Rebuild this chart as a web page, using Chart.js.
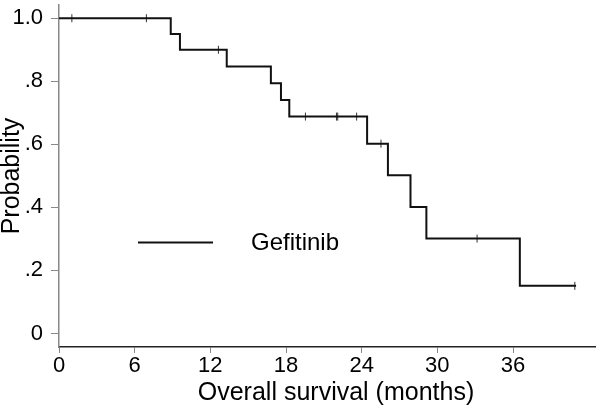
<!DOCTYPE html>
<html>
<head>
<meta charset="utf-8">
<title>Overall survival</title>
<script src="https://cdn.jsdelivr.net/npm/chart.js@4.4.1/dist/chart.umd.min.js"></script>
<style>
  html, body { margin: 0; padding: 0; background: #fff; }
  #wrap { width: 600px; height: 408px; }
</style>
</head>
<body>
<div id="wrap"><canvas id="km" width="600" height="408"></canvas></div>
<script>
  // Kaplan-Meier steps (month, survival after the event)
  const eventMonths = [0, 8.86, 9.59, 13.3, 16.8, 17.6, 18.26, 24.43, 26.08, 27.87, 29.13, 36.54, 41.0];
  const survival    = [1.0, 0.95, 0.90, 0.847, 0.794, 0.741, 0.688, 0.602, 0.502, 0.401, 0.301, 0.151, 0.151];

  // censored patients
  const censorMonths = [1.02, 6.93, 12.64, 19.54, 22.0, 22.1, 23.6, 25.53, 33.15, 40.9];
  const censorSurv   = [1.0, 1.0, 0.90, 0.688, 0.688, 0.688, 0.688, 0.602, 0.301, 0.151];

  const xTicks = [0, 6, 12, 18, 24, 30, 36];
  const yTicks = [0, 0.2, 0.4, 0.6, 0.8, 1.0];
  const yTickLabels = ['0', '.2', '.4', '.6', '.8', '1.0'];

  const seriesName = 'Gefitinib';
  const xTitle = 'Overall survival (months)';
  const FONT = '"Liberation Sans", Arial, sans-serif';

  // legend inside the plot + x title (drawn by hand, the stock ones can't sit there)
  const textPlugin = {
    id: 'kmText',
    afterDraw(chart) {
      const ctx = chart.ctx, area = chart.chartArea;
      ctx.save();
      ctx.strokeStyle = '#111';
      ctx.lineWidth = 2;
      ctx.beginPath();
      ctx.moveTo(138, 242.5);
      ctx.lineTo(213, 242.5);
      ctx.stroke();
      ctx.fillStyle = '#000';
      ctx.font = '24px ' + FONT;
      ctx.textBaseline = 'middle';
      ctx.fillText(chart.data.datasets[0].label, 251, 243);

      ctx.font = '25px ' + FONT;
      ctx.textAlign = 'center';
      ctx.fillText(xTitle, (area.left + area.right) / 2 + 9, 393);
      ctx.restore();
    }
  };

  const noPad = s => { s.paddingTop = 0; s.paddingBottom = 0; s.paddingLeft = 0; s.paddingRight = 0; };

  new Chart(document.getElementById('km'), {
    type: 'line',
    data: {
      datasets: [
        {
          label: seriesName,
          data: eventMonths.map((m, i) => ({ x: m, y: survival[i] })),
          stepped: true,
          borderColor: '#111',
          borderWidth: 2,
          pointRadius: 0,
          fill: false
        },
        {
          label: 'censored',
          data: censorMonths.map((m, i) => ({ x: m, y: censorSurv[i] })),
          showLine: false,
          pointStyle: 'line',
          rotation: 90,
          pointRadius: 4,
          borderWidth: 1,
          borderColor: '#333'
        }
      ]
    },
    options: {
      responsive: false,
      animation: false,
      layout: { padding: { top: 0, right: 2, bottom: 0, left: 0 } },
      plugins: { legend: { display: false }, tooltip: { enabled: false } },
      scales: {
        x: {
          type: 'linear',
          min: 0,
          max: 42.5,
          afterBuildTicks: s => { s.ticks = xTicks.map(v => ({ value: v })); },
          afterFit: s => { s.height = 61; noPad(s); },
          border: { color: '#222', width: 1.5 },
          grid: { display: true, drawOnChartArea: false, drawTicks: true, tickLength: 6, tickColor: '#888' },
          ticks: { color: '#000', padding: 0, font: { family: FONT, size: 22 }, maxRotation: 0 }
        },
        y: {
          min: -0.043,
          max: 1.042,
          afterBuildTicks: s => { s.ticks = yTicks.map(v => ({ value: v })); },
          afterFit: s => { s.width = 59; noPad(s); },
          border: { color: '#888', width: 1.5 },
          grid: { display: true, drawOnChartArea: false, drawTicks: true, tickLength: 8, tickColor: '#888' },
          ticks: {
            color: '#000',
            padding: 8,
            font: { family: FONT, size: 22 },
            callback: (v, i) => yTickLabels[i]
          },
          title: {
            display: true,
            text: 'Probability',
            color: '#000',
            font: { family: FONT, size: 25, lineHeight: 1.0 },
            padding: { top: 0, bottom: 0 }
          }
        }
      }
    },
    plugins: [textPlugin]
  });
</script>
</body>
</html>
